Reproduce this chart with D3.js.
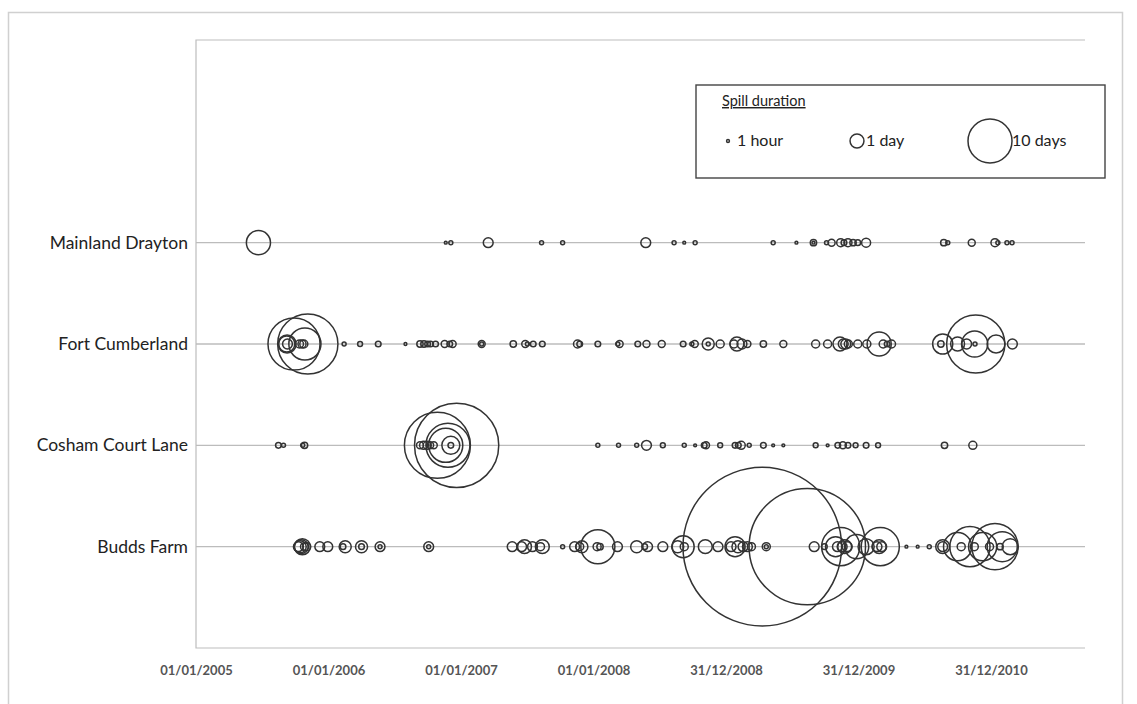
<!DOCTYPE html>
<html>
<head>
<meta charset="utf-8">
<script src="https://cdn.jsdelivr.net/npm/d3@7"></script>
<style>
  html, body { margin: 0; padding: 0; background: #fff; }
  svg { display: block; }
</style>
</head>
<body>
<svg id="chart" width="1137" height="704"></svg>
<script>
// Sites, bottom to top (y = 1 .. 4)
const categories = ["Budds Farm", "Cosham Court Lane", "Fort Cumberland", "Mainland Drayton"];

// Date axis ticks (365-day steps)
const tickDates = ["2005-01-01", "2006-01-01", "2007-01-01", "2008-01-01", "2008-12-31", "2009-12-31", "2010-12-31"];
const tickLabels = ["01/01/2005", "01/01/2006", "01/01/2007", "01/01/2008", "31/12/2008", "31/12/2009", "31/12/2010"];

// Legend reference sizes (hours)
const legendLabels = ["1 hour", "1 day", "10 days"];
const legendHours = [1, 24, 240];

// Spill events per site: [start date, duration in hours]
const mainlandDrayton = [
  ["2005-06-22", 72], ["2006-11-20", 1], ["2006-12-04", 2], ["2007-03-17", 12],
  ["2007-08-11", 2], ["2007-10-08", 2], ["2008-05-24", 12], ["2008-08-10", 2],
  ["2008-09-07", 1], ["2008-10-07", 2], ["2009-05-10", 2], ["2009-07-13", 1],
  ["2009-08-29", 5], ["2009-08-29", 1], ["2009-10-04", 2], ["2009-10-18", 6],
  ["2009-11-12", 8], ["2009-11-21", 4], ["2009-12-02", 8], ["2009-12-16", 5],
  ["2009-12-29", 4], ["2010-01-21", 10], ["2010-08-23", 5], ["2010-09-03", 2],
  ["2010-11-08", 6], ["2011-01-11", 8], ["2011-01-19", 2], ["2011-02-13", 2],
  ["2011-02-27", 2]
];

const fortCumberland = [
  ["2005-09-28", 336], ["2005-11-05", 450], ["2005-10-28", 128], ["2005-09-08", 32],
  ["2005-09-10", 12], ["2005-09-09", 40], ["2005-10-13", 8], ["2005-10-20", 8],
  ["2005-10-25", 8], ["2006-02-13", 2], ["2006-03-29", 3], ["2006-05-18", 4],
  ["2006-08-01", 1], ["2006-09-10", 5], ["2006-09-21", 5], ["2006-10-01", 4],
  ["2006-10-09", 4], ["2006-10-23", 4], ["2006-11-17", 6], ["2006-12-01", 4],
  ["2006-12-09", 6], ["2007-02-27", 6], ["2007-02-27", 2], ["2007-05-25", 5],
  ["2007-06-27", 6], ["2007-07-03", 2], ["2007-07-19", 4], ["2007-08-13", 4],
  ["2007-11-18", 8], ["2007-11-24", 4], ["2008-01-13", 4], ["2008-03-13", 6],
  ["2008-03-08", 2], ["2008-05-02", 4], ["2008-05-26", 6], ["2008-07-07", 6],
  ["2008-09-04", 4], ["2008-10-06", 6], ["2008-09-28", 2], ["2008-11-12", 18],
  ["2008-11-12", 2], ["2008-12-15", 8], ["2009-01-30", 24], ["2009-01-22", 8],
  ["2009-02-13", 12], ["2009-02-28", 6], ["2009-04-13", 5], ["2009-06-07", 6],
  ["2009-09-04", 8], ["2009-10-07", 8], ["2009-11-10", 24], ["2009-11-19", 12],
  ["2009-11-26", 12], ["2009-12-03", 8], ["2009-12-29", 8], ["2010-01-23", 8],
  ["2010-02-26", 72], ["2010-03-09", 8], ["2010-03-20", 4], ["2010-04-01", 8],
  ["2010-08-20", 50], ["2010-08-15", 5], ["2010-09-30", 24], ["2010-10-25", 12],
  ["2010-11-19", 420], ["2010-11-16", 85], ["2010-11-17", 2], ["2011-01-14", 40],
  ["2011-02-28", 12]
];

const coshamCourtLane = [
  ["2005-08-16", 4], ["2005-08-30", 2], ["2005-10-27", 5], ["2005-10-22", 2],
  ["2006-10-28", 540], ["2006-12-20", 880], ["2006-11-26", 240], ["2006-11-20", 144],
  ["2006-12-04", 40], ["2006-09-10", 6], ["2006-09-20", 8], ["2006-09-30", 8],
  ["2006-10-08", 6], ["2006-10-18", 6], ["2006-12-04", 4], ["2008-01-13", 2],
  ["2008-03-10", 2], ["2008-04-29", 2], ["2008-05-26", 12], ["2008-07-10", 3],
  ["2008-09-07", 2], ["2008-10-07", 1], ["2008-11-06", 6], ["2008-11-01", 4],
  ["2008-12-15", 3], ["2009-01-25", 4], ["2009-02-11", 8], ["2009-02-03", 4],
  ["2009-03-05", 2], ["2009-04-13", 4], ["2009-05-10", 1], ["2009-06-07", 1],
  ["2009-09-04", 3], ["2009-10-07", 1], ["2009-11-04", 4], ["2009-11-18", 6],
  ["2009-12-02", 4], ["2009-12-23", 3], ["2010-01-21", 4], ["2010-02-23", 3],
  ["2010-08-25", 5], ["2010-11-11", 8]
];

const buddsFarm = [
  ["2005-10-21", 32], ["2005-10-10", 12], ["2005-10-15", 18], ["2005-10-27", 8],
  ["2005-11-02", 8], ["2005-10-18", 24], ["2005-12-08", 12], ["2005-12-30", 12],
  ["2006-02-16", 18], ["2006-02-10", 4], ["2006-04-02", 18], ["2006-04-02", 4],
  ["2006-05-23", 12], ["2006-05-23", 2], ["2006-10-04", 12], ["2006-10-04", 2],
  ["2007-05-22", 12], ["2007-06-25", 24], ["2007-06-17", 12], ["2007-07-17", 12],
  ["2007-08-13", 24], ["2007-08-08", 8], ["2007-10-08", 2], ["2007-11-10", 12],
  ["2007-11-30", 18], ["2007-11-24", 8], ["2008-01-13", 144], ["2008-01-11", 8],
  ["2008-01-19", 5], ["2008-03-07", 12], ["2008-04-29", 18], ["2008-05-29", 12],
  ["2008-05-21", 4], ["2008-07-10", 12], ["2008-08-20", 18], ["2008-09-04", 60],
  ["2008-09-07", 8], ["2008-11-04", 24], ["2008-12-09", 12], ["2009-01-25", 50],
  ["2009-01-14", 12], ["2009-02-02", 18], ["2009-02-16", 12], ["2009-02-28", 12],
  ["2009-03-11", 8], ["2009-04-10", 3120], ["2009-04-21", 8], ["2009-04-21", 2],
  ["2009-08-12", 1680], ["2009-08-31", 12], ["2009-09-28", 4], ["2009-10-29", 50],
  ["2009-11-12", 180], ["2009-11-23", 24], ["2009-11-03", 12], ["2009-11-16", 12],
  ["2009-11-30", 12], ["2009-12-26", 72], ["2010-01-21", 32], ["2010-02-20", 12],
  ["2010-03-01", 180], ["2010-02-26", 24], ["2010-03-05", 12], ["2010-05-12", 1],
  ["2010-06-12", 1], ["2010-07-14", 2], ["2010-08-20", 12], ["2010-08-20", 24],
  ["2010-09-30", 98], ["2010-11-03", 200], ["2010-12-08", 98], ["2011-01-11", 265],
  ["2011-01-31", 112], ["2011-02-22", 32], ["2010-10-10", 8], ["2010-11-15", 8],
  ["2010-12-27", 8], ["2011-01-25", 5]
];

const seriesBySite = [buddsFarm, coshamCourtLane, fortCumberland, mainlandDrayton];

const parseDate = d3.timeParse("%Y-%m-%d");
const svg = d3.select("#chart");

const x = d3.scaleTime()
  .domain([parseDate("2005-01-01"), parseDate("2011-09-16")])
  .range([196, 1085]);
const y = d3.scaleLinear().domain([0, 6]).range([648, 40]);
const r = d3.scaleSqrt().domain([0, 240]).range([0, 22]);

const labelFont = "Lato, 'Liberation Sans', sans-serif";
const markStroke = "#333";

// Outer chart frame
svg.append("path")
  .attr("d", "M8.5,712 V12.5 H1122.5 V712")
  .attr("fill", "none")
  .attr("stroke", "#d0d0d0")
  .attr("stroke-width", 1.5);

// Plot area border
svg.append("path")
  .attr("d", `M${x.range()[1]},${y(6)} H196 V${y(0)} H${x.range()[1]}`)
  .attr("fill", "none")
  .attr("stroke", "#bdbdbd")
  .attr("stroke-width", 1.2);

// Row lines for each site
svg.append("g")
  .selectAll("line")
  .data(categories)
  .join("line")
  .attr("x1", x.range()[0])
  .attr("x2", x.range()[1])
  .attr("y1", (d, i) => y(i + 1))
  .attr("y2", (d, i) => y(i + 1))
  .attr("stroke", "#bcbcbc")
  .attr("stroke-width", 1.3);

// Bubbles
const bubbles = svg.append("g");
seriesBySite.forEach((rows, i) => {
  bubbles.append("g")
    .selectAll("circle")
    .data(rows)
    .join("circle")
    .attr("cx", d => x(parseDate(d[0])))
    .attr("cy", y(i + 1))
    .attr("r", d => r(d[1]))
    .attr("fill", "none")
    .attr("stroke", markStroke)
    .attr("stroke-width", 1.5);
});

// X axis labels
const xAxis = d3.axisBottom(x)
  .tickValues(tickDates.map(parseDate))
  .tickFormat((d, i) => tickLabels[i])
  .tickSize(0)
  .tickPadding(18);
const gx = svg.append("g").attr("transform", `translate(0,${y(0)})`).call(xAxis);
gx.select(".domain").remove();
gx.selectAll("text")
  .attr("font-family", labelFont)
  .attr("font-size", 13)
  .attr("font-weight", "bold")
  .attr("fill", "#555");

// Y axis category labels
const yAxis = d3.axisLeft(y)
  .tickValues([1, 2, 3, 4])
  .tickFormat(v => categories[v - 1])
  .tickSize(0)
  .tickPadding(8);
const gy = svg.append("g").attr("transform", "translate(196,0)").call(yAxis);
gy.select(".domain").remove();
gy.selectAll("text")
  .attr("font-family", labelFont)
  .attr("font-size", 17.5)
  .attr("fill", "#222");

// Legend
const legend = svg.append("g");
legend.append("rect")
  .attr("x", 696).attr("y", 85)
  .attr("width", 409).attr("height", 93)
  .attr("fill", "#fff")
  .attr("stroke", "#444")
  .attr("stroke-width", 1.4);
legend.append("text")
  .attr("x", 722).attr("y", 106)
  .attr("font-family", labelFont)
  .attr("font-size", 14.5)
  .attr("fill", "#222")
  .attr("text-decoration", "underline")
  .text("Spill duration");

const legendCx = [728, 857, 990];
const legendTx = [737, 866, 1012];
legend.selectAll("circle.key")
  .data(legendHours)
  .join("circle")
  .attr("class", "key")
  .attr("cx", (d, i) => legendCx[i])
  .attr("cy", 141)
  .attr("r", d => r(d))
  .attr("fill", "none")
  .attr("stroke", markStroke)
  .attr("stroke-width", 1.5);
legend.selectAll("text.key")
  .data(legendLabels)
  .join("text")
  .attr("class", "key")
  .attr("x", (d, i) => legendTx[i])
  .attr("y", 146)
  .attr("font-family", labelFont)
  .attr("font-size", 16)
  .attr("fill", "#222")
  .text(d => d);
</script>
</body>
</html>
